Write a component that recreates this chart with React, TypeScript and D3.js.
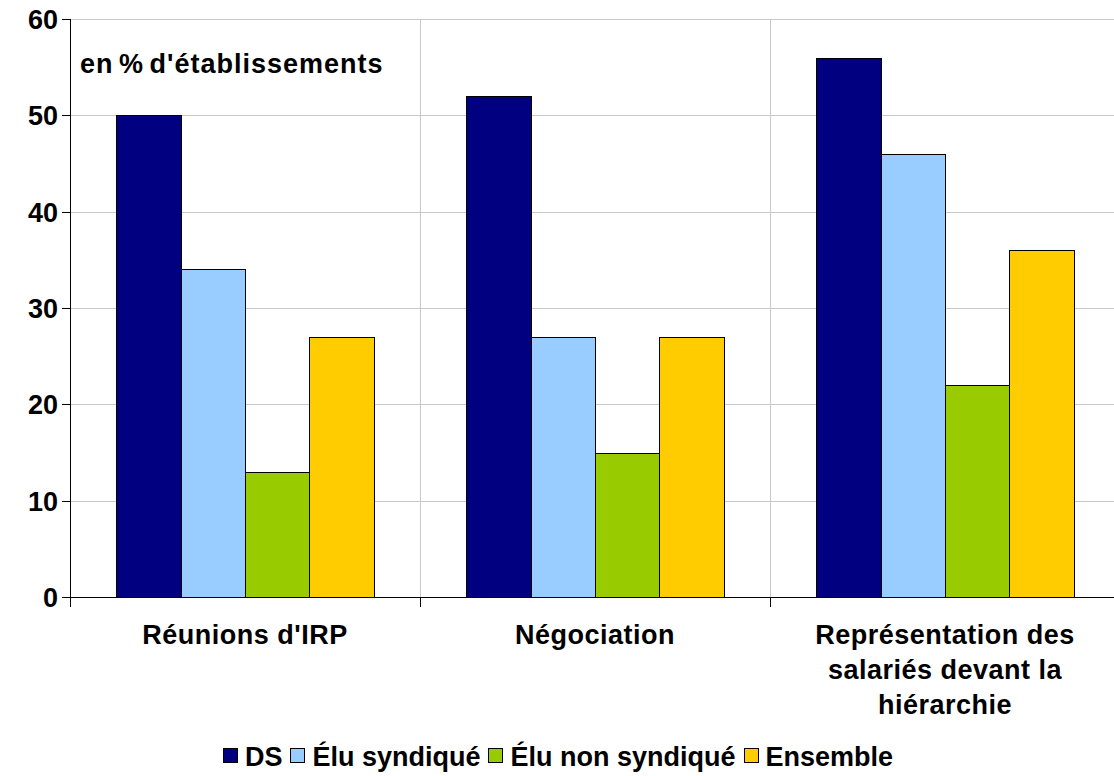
import React, { useEffect, useRef } from "react";
import * as d3 from "d3";

const categories = ["Réunions d'IRP", "Négociation", "Représentation des salariés devant la hiérarchie"];
const categoryLines = [["Réunions d'IRP"], ["Négociation"], ["Représentation des", "salariés devant la", "hiérarchie"]];
const seriesNames = ["DS", "Élu syndiqué", "Élu non syndiqué", "Ensemble"];
const seriesColors = ["#000080", "#99CCFF", "#99CC00", "#FFCC00"];
const dsValues = [50, 52, 56];
const eluSyndValues = [34, 27, 46];
const eluNonSyndValues = [13, 15, 22];
const ensembleValues = [27, 27, 36];
const yTicks = [0, 10, 20, 30, 40, 50, 60];

const W = 1114, H = 776;
const left = 70, right = 1120, top = 19, bottom = 597;
const FONT = "'Liberation Sans', Arial, sans-serif";

export default function App() {
  const ref = useRef<SVGSVGElement>(null);
  useEffect(() => {
    const svg = d3.select(ref.current!);
    svg.selectAll("*").remove();
    const series = [dsValues, eluSyndValues, eluNonSyndValues, ensembleValues];
    const x = d3.scaleBand().domain(categories).range([left, right]).paddingInner(0).paddingOuter(0);
    const y = d3.scaleLinear().domain([0, 60]).range([bottom, top]);
    const inner = d3.scaleBand().domain(seriesNames).range([0, x.bandwidth()]).paddingInner(0).paddingOuter(0.72);

    // horizontal gridlines
    svg.append("g").selectAll("line").data(yTicks.slice(1)).join("line")
      .attr("x1", left).attr("x2", W).attr("y1", d => Math.round(y(d)) + 0.5).attr("y2", d => Math.round(y(d)) + 0.5)
      .attr("stroke", "#c8c8c8").attr("stroke-width", 1);
    // vertical gridlines at category boundaries
    svg.append("g").selectAll("line").data(categories.slice(1)).join("line")
      .attr("x1", d => Math.round(x(d)!) + 0.5).attr("x2", d => Math.round(x(d)!) + 0.5).attr("y1", top).attr("y2", bottom)
      .attr("stroke", "#c8c8c8").attr("stroke-width", 1);

    // bars
    const g = svg.append("g");
    categories.forEach((c, ci) => {
      series.forEach((s, si) => {
        const x0 = Math.round(x(c)! + inner(seriesNames[si])!);
        const x1 = Math.round(x(c)! + inner(seriesNames[si])! + inner.bandwidth());
        g.append("rect")
          .attr("x", x0 + 0.5).attr("y", Math.round(y(s[ci])) + 0.5)
          .attr("width", x1 - x0).attr("height", Math.round(y(0)) - Math.round(y(s[ci])))
          .attr("fill", seriesColors[si]).attr("stroke", "#000").attr("stroke-width", 1);
      });
    });

    // y axis
    svg.append("line").attr("x1", left + 0.5).attr("x2", left + 0.5).attr("y1", top).attr("y2", bottom + 0.5)
      .attr("stroke", "#000");
    svg.append("g").selectAll("line").data(yTicks).join("line")
      .attr("x1", 62).attr("x2", left).attr("y1", d => Math.round(y(d)) + 0.5).attr("y2", d => Math.round(y(d)) + 0.5)
      .attr("stroke", "#000");
    svg.append("g").selectAll("text").data(yTicks).join("text")
      .attr("x", 58).attr("y", d => y(d) + 10).attr("text-anchor", "end")
      .attr("font-family", FONT).attr("font-weight", "bold").attr("font-size", 27).attr("fill", "#000")
      .text(d => String(d));

    // x axis
    svg.append("line").attr("x1", left).attr("x2", W).attr("y1", bottom + 0.5).attr("y2", bottom + 0.5).attr("stroke", "#000");
    const bounds = [left, Math.round(x(categories[1])!), Math.round(x(categories[2])!)];
    svg.append("g").selectAll("line").data(bounds).join("line")
      .attr("x1", d => d + 0.5).attr("x2", d => d + 0.5).attr("y1", bottom).attr("y2", bottom + 10)
      .attr("stroke", "#000");

    // category labels
    categories.forEach((c, ci) => {
      const cx = x(c)! + x.bandwidth() / 2;
      const t = svg.append("text").attr("text-anchor", "middle")
        .attr("font-family", FONT).attr("font-weight", "bold").attr("font-size", 27).attr("fill", "#000")
        .attr("letter-spacing", 0.5);
      categoryLines[ci].forEach((ln, li) => {
        t.append("tspan").attr("x", cx).attr("y", 644 + li * 35).text(ln);
      });
    });

    // annotation
    svg.append("text").attr("x", 80).attr("y", 73)
      .attr("font-family", FONT).attr("font-weight", "bold").attr("font-size", 27).attr("fill", "#000")
      .attr("letter-spacing", 1).attr("word-spacing", -3)
      .text("en % d'établissements");

    // legend
    const lg = svg.append("g");
    const positions: number[] = [];
    const texts: SVGTextElement[] = [];
    const sq = 14, gapIn = 8, gapOut = 8;
    let cur = 0;
    seriesNames.forEach((n) => {
      const t = lg.append("text").attr("y", 766)
        .attr("font-family", FONT).attr("font-weight", "bold").attr("font-size", 27).attr("fill", "#000").text(n);
      const tw = (t.node() as SVGTextElement).getComputedTextLength();
      texts.push(t.node() as SVGTextElement);
      positions.push(cur);
      cur += sq + gapIn + tw + gapOut;
    });
    const total = cur - gapOut;
    const startX = 558 - total / 2;
    texts.forEach((t, i) => d3.select(t).attr("x", startX + positions[i] + sq + gapIn));
    seriesNames.forEach((n, i) => {
      lg.append("rect").attr("x", Math.round(startX + positions[i]) + 0.5).attr("y", 748.5)
        .attr("width", sq).attr("height", sq).attr("fill", seriesColors[i]).attr("stroke", "#000");
    });
  }, []);

  return (
    <svg ref={ref} width={W} height={H} style={{ position: "absolute", left: 0, top: 0, background: "#fff" }} />
  );
}
